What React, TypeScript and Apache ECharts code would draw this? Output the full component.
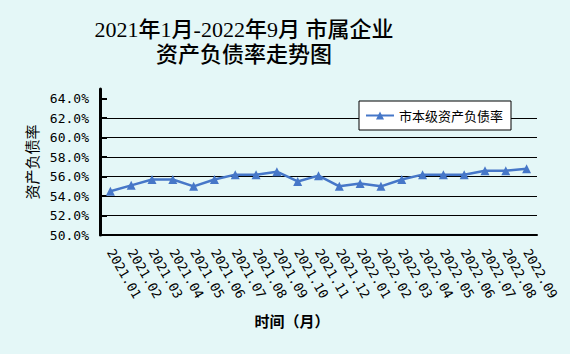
import React, { useEffect, useRef } from "react";
import * as echarts from "echarts";

const categories = [
  "2021.01", "2021.02", "2021.03", "2021.04", "2021.05", "2021.06", "2021.07",
  "2021.08", "2021.09", "2021.10", "2021.11", "2021.12", "2022.01", "2022.02",
  "2022.03", "2022.04", "2022.05", "2022.06", "2022.07", "2022.08", "2022.09",
];
const seriesName = "市本级资产负债率";
const values = [
  54.5, 55.1, 55.7, 55.7, 55.0, 55.7, 56.2, 56.2, 56.5, 55.5, 56.1, 55.0,
  55.3, 55.0, 55.7, 56.2, 56.2, 56.2, 56.6, 56.6, 56.8,
];
const yMin = 50;
const yMax = 65;
const yInterval = 2;
const yTicks = [50, 52, 54, 56, 58, 60, 62, 64];
const titleText = "2021年1月-2022年9月 市属企业\n资产负债率走势图";
const yAxisName = "资产负债率";
const xAxisName = "时间（月）";

export default function App() {
  const ref = useRef<HTMLDivElement>(null);
  useEffect(() => {
    document.body.style.margin = "0";
    const chart = echarts.init(ref.current!, null, { renderer: "svg" });
    const mono = "'DejaVu Sans Mono', monospace";
    chart.setOption({
      animation: false,
      backgroundColor: "#e4f7f7",
      title: [
        {
          text: titleText,
          left: 239,
          top: 12,
          textAlign: "center",
          textStyle: {
            fontFamily: "'Liberation Serif', 'Noto Sans CJK SC', serif",
            fontSize: 22,
            fontWeight: 500,
            color: "#000",
            lineHeight: 25,
          },
        },
        {
          text: xAxisName,
          left: 287,
          top: 308,
          textAlign: "center",
          textStyle: {
            fontFamily: "'Noto Sans CJK SC', sans-serif",
            fontSize: 15,
            fontWeight: "bold",
            color: "#000",
          },
        },
      ],
      legend: {
        left: 359,
        top: 101,
        width: 148,
        height: 32,
        padding: [8, 8, 8, 6],
        backgroundColor: "#fff",
        borderColor: "#000",
        borderWidth: 1,
        borderRadius: 0,
        itemWidth: 28,
        itemHeight: 10,
        textStyle: {
          fontFamily: "'Noto Sans CJK SC', sans-serif",
          fontSize: 13,
          color: "#000",
        },
        data: [seriesName],
      },
      grid: { left: 100, right: 33, top: 89, bottom: 119 },
      xAxis: {
        type: "category",
        data: categories,
        boundaryGap: true,
        axisLine: { lineStyle: { color: "#000", width: 2 } },
        axisTick: { inside: true, length: 6, lineStyle: { color: "#000", width: 1 } },
        axisLabel: {
          rotate: -60,
          margin: 15,
          interval: 0,
          fontFamily: mono,
          fontSize: 13,
          color: "#000",
        },
        splitLine: { show: false },
      },
      yAxis: {
        type: "value",
        min: yMin,
        max: yMax,
        interval: yInterval,
        name: yAxisName,
        nameLocation: "middle",
        nameRotate: 90,
        nameGap: 60,
        nameTextStyle: {
          fontFamily: "'Noto Sans CJK SC', sans-serif",
          fontSize: 15,
          color: "#000",
        },
        axisLine: { show: true, lineStyle: { color: "#000", width: 3 } },
        axisTick: {
          show: true,
          inside: true,
          length: 7,
          customValues: yTicks,
          lineStyle: { color: "#000", width: 2 },
        },
        axisLabel: {
          margin: 11,
          fontFamily: mono,
          fontSize: 13,
          color: "#000",
          formatter: (v: number) => (v > 64 ? "" : v.toFixed(1) + "%"),
        },
        splitLine: {
          show: true,
          showMaxLine: false,
          lineStyle: { color: "#000", width: 1 },
        },
      },
      series: [
        {
          name: seriesName,
          type: "line",
          data: values,
          symbol: "triangle",
          symbolSize: 9,
          color: "#4677c8",
          lineStyle: { width: 2.5, color: "#4677c8" },
          itemStyle: { color: "#4677c8" },
        },
      ],
    });
    return () => chart.dispose();
  }, []);
  return <div ref={ref} style={{ width: 570, height: 354 }} />;
}
